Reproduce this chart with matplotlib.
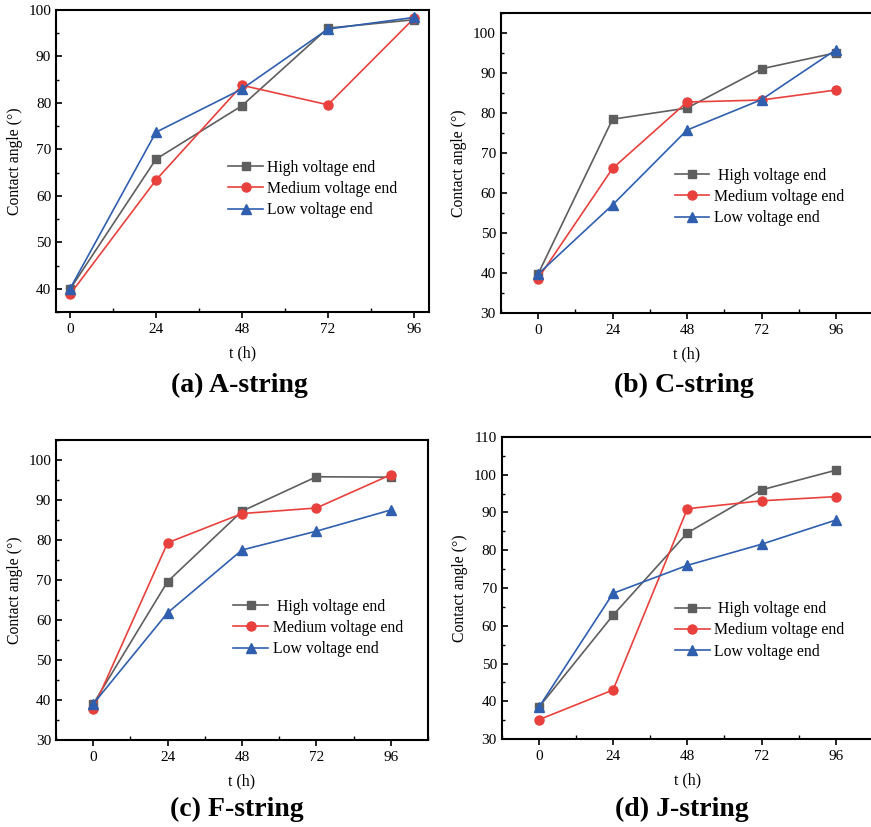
import matplotlib.pyplot as plt
from matplotlib.ticker import MultipleLocator

plt.rcParams['font.family'] = ['Liberation Serif', 'DejaVu Serif']

t = [0, 24, 48, 72, 96]

# contact angle readings (deg) per string
a_high = [39.9, 67.9, 79.4, 96.1, 97.9]
a_med = [38.8, 63.4, 83.8, 79.6, 98.2]
a_low = [40.0, 73.7, 83.0, 95.9, 98.4]

c_high = [39.7, 78.4, 81.2, 91.0, 95.0]
c_med = [38.6, 66.1, 82.7, 83.2, 85.7]
c_low = [39.7, 57.0, 75.7, 83.3, 95.8]

f_high = [39.0, 69.6, 87.2, 95.8, 95.7]
f_med = [37.8, 79.3, 86.6, 88.0, 96.3]
f_low = [39.0, 61.8, 77.5, 82.2, 87.5]

j_high = [38.4, 62.8, 84.6, 96.0, 101.2]
j_med = [35.1, 43.0, 91.0, 93.1, 94.2]
j_low = [38.4, 68.6, 76.0, 81.6, 88.0]

titles = ['(a) A-string', '(b) C-string', '(c) F-string', '(d) J-string']
high_labels = ['High voltage end', ' High voltage end', ' High voltage end', ' High voltage end']

gray = '#5e5e5e'
red = '#e8413d'
blue = '#2f5fae'

fig = plt.figure(figsize=(8.71, 8.27), dpi=100)

boxes = [[0.0643, 0.6227, 0.4282, 0.3652],
         [0.5749, 0.6215, 0.4278, 0.3631],
         [0.0643, 0.1052, 0.4271, 0.3628],
         [0.5760, 0.1064, 0.4263, 0.3652]]
xlims = [(-3.9, 100.2), (-12, 108), (-12, 108), (-12, 108)]
ylims = [(35, 100), (30, 105), (30, 105), (30, 110)]
data = [(a_high, a_med, a_low), (c_high, c_med, c_low),
        (f_high, f_med, f_low), (j_high, j_med, j_low)]
leg_pos = [(0.445, 0.525), (0.45, 0.505), (0.46, 0.492), (0.45, 0.477)]
title_pos = [(239, 385), (684, 385), (237, 809), (682, 809)]

for i in range(4):
    ax = fig.add_axes(boxes[i])
    hi, me, lo = data[i]
    ax.plot(t, hi, color=gray, marker='s', markersize=6, lw=1.2, label=high_labels[i])
    ax.plot(t, me, color=red, marker='o', markersize=6.5, lw=1.2, label='Medium voltage end')
    ax.plot(t, lo, color=blue, marker='^', markersize=7, lw=1.2, label='Low voltage end')
    ax.set_xlim(xlims[i])
    ax.set_ylim(ylims[i])
    ax.set_xticks(t)
    ax.xaxis.set_minor_locator(MultipleLocator(12))
    ax.yaxis.set_major_locator(MultipleLocator(10))
    ax.yaxis.set_minor_locator(MultipleLocator(5))
    ax.tick_params(axis='x', which='major', direction='out', length=4, width=1.2, labelsize=11, pad=4)
    ax.tick_params(axis='x', which='minor', direction='in', length=3, width=1.0)
    ax.tick_params(axis='y', which='major', direction='in', length=4, width=1.2, labelsize=11)
    ax.tick_params(axis='y', which='minor', direction='in', length=2.5, width=1.0)
    for s in ax.spines.values():
        s.set_linewidth(1.5)
    ax.set_xlabel('t (h)', fontsize=11.5, labelpad=7)
    ax.set_ylabel('Contact angle (°)', fontsize=11.3, labelpad=4)
    ax.legend(loc='upper left', bbox_to_anchor=leg_pos[i], frameon=False, fontsize=11.3,
              handlelength=2.2, handletextpad=0.3, labelspacing=0.33, borderaxespad=0)
    fig.text(title_pos[i][0] / 871, 1 - title_pos[i][1] / 827, titles[i],
             fontsize=20, fontweight='bold', ha='center', va='center')

fig.savefig('out.png', dpi=100)
